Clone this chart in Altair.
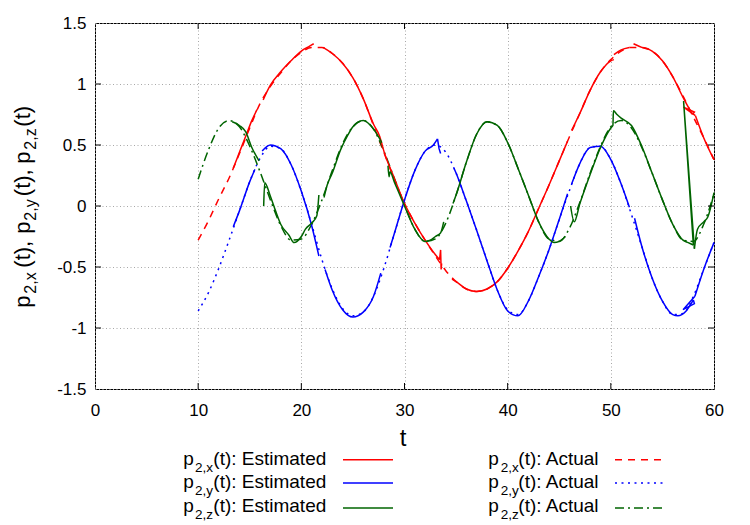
import altair as alt
import pandas as pd

FONT = "Liberation Sans"

# ---------------- data ----------------
T_ACT = list(range(10, 61))
ACT_X = [-0.28, -0.12, 0.06, 0.23, 0.43, 0.64, 0.84, 0.98, 1.09, 1.19, 1.26, 1.30, 1.30, 1.25, 1.17, 1.05, 0.88,
         0.66, 0.44, 0.22, 0.02, -0.14, -0.28, -0.41, -0.53, -0.62, -0.68, -0.70, -0.68, -0.62, -0.51, -0.37,
         -0.21, -0.02, 0.17, 0.37, 0.57, 0.76, 0.95, 1.10, 1.20, 1.27, 1.30, 1.30, 1.27, 1.19, 1.06, 0.90, 0.73,
         0.56, 0.38]
ACT_Y = [-0.86, -0.71, -0.51, -0.28, -0.04, 0.20, 0.39, 0.49, 0.47, 0.34, 0.12, -0.15, -0.44, -0.68, -0.84,
         -0.90, -0.87, -0.74, -0.51, -0.23, 0.05, 0.29, 0.45, 0.50, 0.44, 0.27, 0.04, -0.20, -0.45, -0.69, -0.85,
         -0.89, -0.78, -0.58, -0.36, -0.11, 0.13, 0.35, 0.48, 0.49, 0.38, 0.18, -0.07, -0.33, -0.59, -0.78, -0.89,
         -0.88, -0.74, -0.52, -0.30]
ACT_Z = [0.22, 0.46, 0.64, 0.70, 0.65, 0.49, 0.28, 0.05, -0.16, -0.28, -0.27, -0.15, 0.05, 0.29, 0.51, 0.65,
         0.70, 0.63, 0.45, 0.23, 0.01, -0.19, -0.29, -0.27, -0.14, 0.09, 0.36, 0.59, 0.69, 0.66, 0.52, 0.31, 0.09,
         -0.13, -0.27, -0.29, -0.18, 0.03, 0.27, 0.49, 0.65, 0.70, 0.64, 0.48, 0.27, 0.05, -0.15, -0.28, -0.29,
         -0.15, 0.10]

# estimated traces: segments (s = smooth, g = straight glitch path)
EST_X_T = [[13.4, 14, 14.6, 15.2, 15.7],
           [16.3, 17, 18, 19, 20, 20.8, 21.2],
           [22.1, 23, 24, 25, 26, 27, 27.6, 28, 29, 30, 31, 32, 33, 33.4],
           [33.4, 33.5, 33.55, 33.6],
           [34.6, 35, 36, 37, 38, 39, 40, 41, 42, 43, 44, 45, 45.8],
           [46.2, 47, 48, 49, 50, 50.3],
           [50.3, 51, 51.8],
           [52.2, 53, 54, 55, 56, 57, 57.9],
           [57.9, 58.1, 57.05, 58.2],
           [58.2, 59, 60]]
EST_X_V = [[0.31, 0.44, 0.57, 0.70, 0.79],
           [0.87, 0.99, 1.10, 1.19, 1.27, 1.31, 1.33],
           [1.30, 1.25, 1.17, 1.05, 0.88, 0.67, 0.57, 0.45, 0.23, 0.02, -0.14, -0.28, -0.40, -0.44],
           [-0.44, -0.36, -0.52, -0.47],
           [-0.60, -0.62, -0.68, -0.70, -0.68, -0.62, -0.51, -0.37, -0.21, -0.02, 0.17, 0.37, 0.53],
           [0.62, 0.76, 0.95, 1.10, 1.19, 1.20],
           [1.24, 1.28, 1.30],
           [1.33, 1.30, 1.27, 1.19, 1.06, 0.89, 0.75],
           [0.75, 0.77, 0.81, 0.74],
           [0.74, 0.56, 0.38]]
EST_X_K = ["s", "s", "s", "g", "s", "s", "s", "s", "g", "s"]

EST_Y_T = [[13.4, 14, 15, 15.5],
           [16.2, 17, 18, 19, 20, 21, 21.7],
           [22.3, 23, 24, 25, 26, 27, 27.7],
           [28.6, 29, 30, 31, 32, 32.8, 33.2],
           [33.2, 33.35, 33.5],
           [34.8, 35, 36, 37, 38, 39, 40, 41, 42, 43, 44, 45, 45.8],
           [46.2, 47, 48, 49, 50, 51, 51.8],
           [52.3, 53, 54, 55, 56, 56.5, 57.3, 58.0],
           [58.0, 58.1, 57.0, 58.15],
           [58.15, 59, 60]]
EST_Y_V = [[-0.17, -0.04, 0.20, 0.30],
           [0.45, 0.50, 0.47, 0.34, 0.12, -0.16, -0.41],
           [-0.52, -0.69, -0.85, -0.91, -0.87, -0.74, -0.55],
           [-0.34, -0.23, 0.05, 0.29, 0.45, 0.50, 0.55],
           [0.55, 0.47, 0.43],
           [0.31, 0.27, 0.04, -0.20, -0.45, -0.69, -0.86, -0.90, -0.78, -0.58, -0.36, -0.11, 0.10],
           [0.18, 0.35, 0.48, 0.49, 0.38, 0.18, -0.01],
           [-0.10, -0.33, -0.59, -0.78, -0.89, -0.90, -0.86, -0.77],
           [-0.77, -0.80, -0.85, -0.74],
           [-0.74, -0.52, -0.30]]
EST_Y_K = ["s", "s", "s", "s", "g", "s", "s", "s", "g", "s"]

EST_Z_T = [[13.3, 14, 14.6, 15.2, 15.9],
           [16.35, 16.45, 17, 17.5, 18, 18.8, 19.3, 20, 20.4, 21, 21.5, 21.7],
           [22.2, 22.5, 23, 23.8, 24.5, 25, 26, 27, 27.8],
           [28.4, 28.5, 28.6, 29, 30, 31, 32, 32.5, 33, 33.5, 33.8],
           [34.7, 35, 36, 37, 38, 39, 40, 41, 42, 43, 44, 44.5, 45, 45.6],
           [46.1, 46.45, 47, 48, 49, 50, 50.2, 50.25, 50.6, 51, 52, 53, 54, 55, 56, 57, 57.5, 58.0],
           [58.0, 57.05, 58.1],
           [58.1, 58.4, 59, 59.4, 60]]
EST_Z_V = [[0.69, 0.66, 0.61, 0.48, 0.37],
           [0.00, 0.19, 0.08, -0.04, -0.15, -0.24, -0.30, -0.25, -0.19, -0.14, -0.08, 0.09],
           [0.07, 0.17, 0.27, 0.46, 0.58, 0.65, 0.70, 0.63, 0.52],
           [0.33, 0.24, 0.28, 0.20, 0.00, -0.19, -0.29, -0.28, -0.25, -0.22, -0.13],
           [0.02, 0.09, 0.36, 0.59, 0.69, 0.66, 0.52, 0.31, 0.09, -0.13, -0.27, -0.30, -0.29, -0.25],
           [0.00, -0.13, 0.02, 0.26, 0.48, 0.64, 0.66, 0.78, 0.75, 0.72, 0.66, 0.49, 0.27, 0.05, -0.15, -0.28,
            -0.30, -0.32],
           [-0.32, 0.86, -0.35],
           [-0.35, -0.19, -0.13, -0.09, 0.11]]
EST_Z_K = ["s", "s", "s", "s", "s", "s", "g", "s"]

X_TICKS = [0, 10, 20, 30, 40, 50, 60]
Y_TICKS = [-1.5, -1, -0.5, 0, 0.5, 1, 1.5]
COMPS = ["x", "y", "z"]
COLORS = {"x": "#ff0000", "y": "#0000ff", "z": "#006400"}
DASHES = {"x": [7, 6], "y": [2, 4.5], "z": [9, 4, 2, 4]}

# ---------------- tables ----------------
act_rows = []
for c, vals in zip(COMPS, [ACT_X, ACT_Y, ACT_Z]):
    for t, v in zip(T_ACT, vals):
        act_rows.append({"comp": c, "t": t, "v": v})
act_df = pd.DataFrame(act_rows)

est_rows = []
for c, Ts, Vs, Ks in [("x", EST_X_T, EST_X_V, EST_X_K), ("y", EST_Y_T, EST_Y_V, EST_Y_K),
                      ("z", EST_Z_T, EST_Z_V, EST_Z_K)]:
    for i, (ts, vs, k) in enumerate(zip(Ts, Vs, Ks)):
        for j, (t, v) in enumerate(zip(ts, vs)):
            est_rows.append({"comp": c, "seg": f"{c}{i}", "kind": k, "o": j, "t": t, "v": v})
est_df = pd.DataFrame(est_rows)

W, H = 619, 366

xs = alt.X("t:Q", scale=alt.Scale(domain=[0, 60], nice=False, zero=False),
           axis=alt.Axis(values=X_TICKS, title=None, grid=True, labelPadding=13, labelFlush=False))
ys = alt.Y("v:Q", scale=alt.Scale(domain=[-1.5, 1.5], nice=False, zero=False),
           axis=alt.Axis(values=Y_TICKS, title=None, grid=True, labelPadding=9, labelFlush=False,
                         labelExpr="datum.value < 0 ? '-' + format(-datum.value, '~g') : format(datum.value, '~g')"))

layers = []
for c in COMPS:
    layers.append(alt.Chart(act_df).transform_filter(f"datum.comp == '{c}'").mark_line(
        color=COLORS[c], strokeWidth=1.5, strokeDash=DASHES[c], interpolate="monotone"
    ).encode(x=xs, y=ys, order="t:Q"))
for c in COMPS:
    layers.append(alt.Chart(est_df).transform_filter(f"datum.comp == '{c}' && datum.kind == 's'").mark_line(
        color=COLORS[c], strokeWidth=1.5, interpolate="monotone"
    ).encode(x=xs, y=ys, detail="seg:N", order="o:Q"))
    layers.append(alt.Chart(est_df).transform_filter(f"datum.comp == '{c}' && datum.kind == 'g'").mark_line(
        color=COLORS[c], strokeWidth=1.5, interpolate="linear"
    ).encode(x=xs, y=ys, detail="seg:N", order="o:Q"))

# inward tick marks (gnuplot style) on all four sides
xt = pd.DataFrame({"t": X_TICKS[1:-1]})
yt = pd.DataFrame({"v": Y_TICKS[1:-1]})
layers.append(alt.Chart(xt).mark_rule(color="black", strokeWidth=1).encode(x=xs, y=alt.value(H - 6), y2=alt.value(H)))
layers.append(alt.Chart(xt).mark_rule(color="black", strokeWidth=1).encode(x=xs, y=alt.value(0), y2=alt.value(6)))
layers.append(alt.Chart(yt).mark_rule(color="black", strokeWidth=1).encode(y=ys, x=alt.value(0), x2=alt.value(6)))
layers.append(alt.Chart(yt).mark_rule(color="black", strokeWidth=1).encode(y=ys, x=alt.value(W - 6), x2=alt.value(W)))

ONE = pd.DataFrame({"k": [0]})


def txt(s, x, y, size, angle=0, align="left"):
    return alt.Chart(ONE).mark_text(text=s, font=FONT, fontSize=size, align=align, baseline="alphabetic",
                                    angle=angle, color="black").encode(x=alt.value(x), y=alt.value(y))


OX, OY = 95, 23.3  # page position of plot origin

# y-axis title with subscripts (rotated)
MAIN_X, SUB_X = 30 - OX, 36 - OX
for s, page_y, sub in [("p", 308, False), ("2,x", 294, True), ("(t),", 268, False),
                       ("p", 234, False), ("2,y", 221, True), ("(t),", 196.5, False),
                       ("p", 164, False), ("2,z", 150, True), ("(t)", 127, False)]:
    layers.append(txt(s, SUB_X if sub else MAIN_X, page_y - OY, 16 if sub else 22, angle=270))

# x-axis title
layers.append(txt("t", 403 - OX, 446 - OY, 24, align="center"))

# legend
ROW_BASE = [465, 488.5, 512]
SAMPLE_Y = [460, 483.3, 508.3]
for col, (px, subx, restx, rest, sx1, sx2, dashed) in enumerate([
        (183.3, 195, 213.3, "(t): Estimated", 343, 393, False),
        (488.3, 500.7, 518.3, "(t): Actual", 615, 663, True)]):
    for r, c in enumerate(COMPS):
        b = ROW_BASE[r] - OY
        layers.append(txt("p", px - OX, b, 19))
        layers.append(txt("2," + c, subx - OX, b + 7, 13.5))
        layers.append(txt(rest, restx - OX, b, 19))
        mk = dict(color=COLORS[c], strokeWidth=1.5)
        if dashed:
            mk["strokeDash"] = DASHES[c]
        layers.append(alt.Chart(ONE).mark_rule(**mk).encode(
            x=alt.value(sx1 - OX), x2=alt.value(sx2 - OX), y=alt.value(SAMPLE_Y[r] - OY)))

chart = alt.layer(*layers).properties(
    width=W, height=H,
    autosize=alt.AutoSizeParams(type="none"),
    padding={"left": 87, "top": 15, "right": 28, "bottom": 136},
).configure_view(
    stroke="black", strokeWidth=1
).configure_axis(
    domain=False, ticks=False, tickSize=0, labelFont=FONT, labelFontSize=17, labelColor="black",
    gridColor="#a8a8a8", gridDash=[1, 2.5], gridWidth=1, gridOpacity=1
)

chart.save("out.html", embed_options={"renderer": "svg", "actions": False})
